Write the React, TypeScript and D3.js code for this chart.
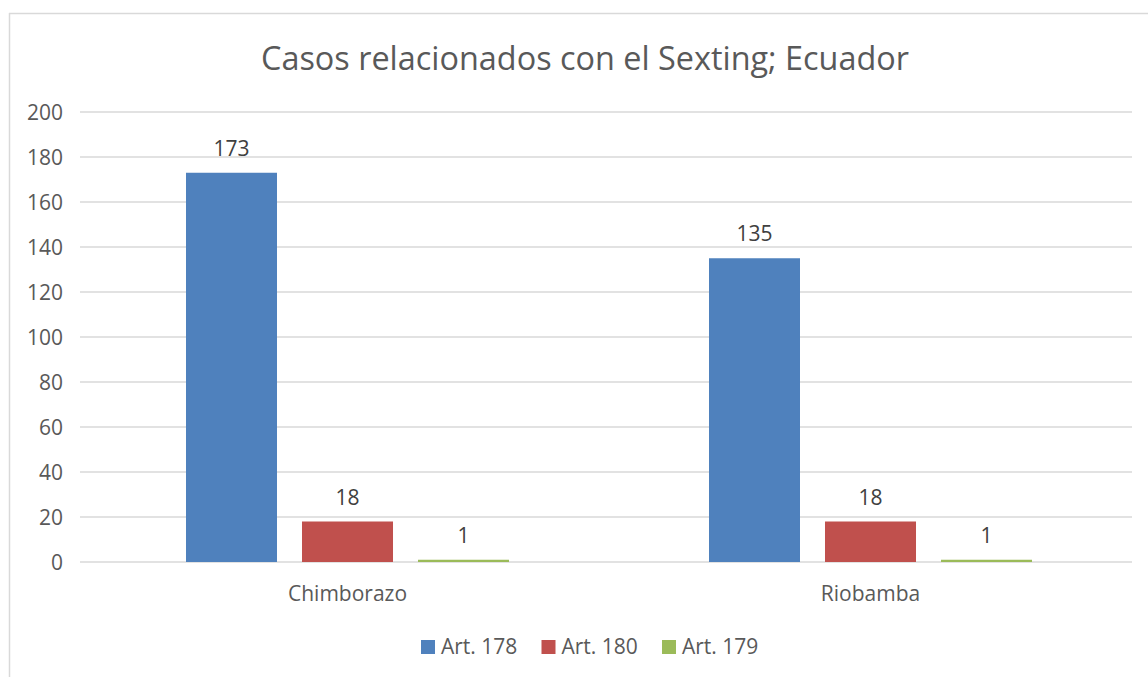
import * as d3 from "d3";

const categories: string[] = ["Chimborazo", "Riobamba"];
const seriesNames: string[] = ["Art. 178", "Art. 180", "Art. 179"];
const art178: number[] = [173, 135];
const art180: number[] = [18, 18];
const art179: number[] = [1, 1];
const yTicks: number[] = [0, 20, 40, 60, 80, 100, 120, 140, 160, 180, 200];
const colors: string[] = ["#4f81bd", "#c0504d", "#9bbb59"];

export default function App() {
  const w = 1148;
  const h = 677;
  const font = "'Open Sans', sans-serif";
  const values: number[][] = [art178, art180, art179];

  // scales
  const x0 = d3.scaleBand().domain(categories).range([86, 1132]);
  const x1 = d3
    .scaleBand()
    .domain(seriesNames)
    .range([0, x0.bandwidth()])
    .paddingInner(0.2155)
    .paddingOuter(0.862);
  const y = d3.scaleLinear().domain([0, 200]).range([562, 112]);
  const legendX = d3.scalePoint().domain(seriesNames).range([421, 662]);

  return (
    <svg
      width={w}
      height={h}
      style={{ position: "absolute", left: 0, top: 0, background: "#fff" }}
    >
      {/* frame */}
      <line x1={9.5} x2={9.5} y1={13} y2={h} stroke="#d9d9d9" strokeWidth={1.5} />
      <line x1={9} x2={w} y1={13.5} y2={13.5} stroke="#d9d9d9" strokeWidth={1.5} />

      <text
        x={585}
        y={70}
        textAnchor="middle"
        fontFamily={font}
        fontSize={32.4}
        fill="#595959"
      >
        Casos relacionados con el Sexting; Ecuador
      </text>

      {/* grid + y labels */}
      {yTicks.map((t) => (
        <g key={t}>
          <line
            x1={80}
            x2={1132}
            y1={y(t)}
            y2={y(t)}
            stroke="#d9d9d9"
            strokeWidth={1.5}
          />
          <text
            x={63}
            y={y(t) + 8}
            textAnchor="end"
            fontFamily={font}
            fontSize={21}
            fill="#595959"
          >
            {t}
          </text>
        </g>
      ))}

      {/* bars */}
      {categories.map((c, ci) => (
        <g key={c} transform={`translate(${x0(c)},0)`}>
          {seriesNames.map((s, si) => {
            const v = values[si][ci];
            const bx = x1(s) as number;
            return (
              <g key={s}>
                <rect
                  x={bx}
                  y={y(v)}
                  width={x1.bandwidth()}
                  height={y(0) - y(v)}
                  fill={colors[si]}
                />
                <text
                  x={bx + x1.bandwidth() / 2}
                  y={y(v) - 17}
                  textAnchor="middle"
                  fontFamily={font}
                  fontSize={21}
                  fill="#404040"
                >
                  {v}
                </text>
              </g>
            );
          })}
          <text
            x={x0.bandwidth() / 2}
            y={601}
            textAnchor="middle"
            fontFamily={font}
            fontSize={21}
            fill="#595959"
          >
            {c}
          </text>
        </g>
      ))}

      {/* legend */}
      {seriesNames.map((s, si) => (
        <g key={s} transform={`translate(${legendX(s)},640)`}>
          <rect width={14} height={14} fill={colors[si]} />
          <text x={20} y={14} fontFamily={font} fontSize={21} fill="#595959">
            {s}
          </text>
        </g>
      ))}
    </svg>
  );
}
